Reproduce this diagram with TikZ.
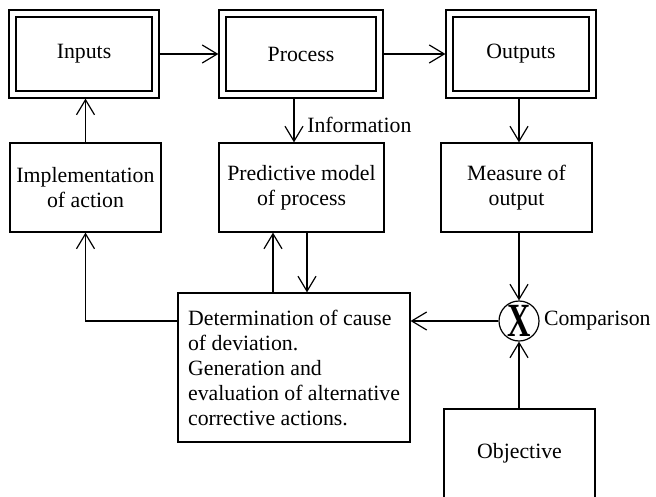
\documentclass[tikz,border=0pt]{standalone}
\usepackage{fontspec}
\setmainfont{Liberation Serif}
\usetikzlibrary{arrows.meta,calc}
\tikzstyle{block}=[draw,line width=0.6pt,minimum width=75.5pt,minimum height=44.5pt,align=center,inner sep=2pt]
\tikzstyle{dblock}=[draw,line width=0.6pt,double,double distance=2.9pt,minimum width=71.5pt,minimum height=40.5pt,outer sep=2.05pt]
\tikzstyle{flow}=[line width=0.6pt,-{Straight Barb[length=7.5pt,width=9pt]}]
\newcommand{\bigX}{{\fontsize{17pt}{17pt}\selectfont\bfseries\scalebox{0.95}[1.4]{X}}} % the cross in the comparator

\begin{document}
\begin{tikzpicture}[x=0.5pt,y=-0.5pt,font=\fontsize{10.9pt}{12.5pt}\selectfont]
\useasboundingbox (0,0) rectangle (656,496);
	% top row
	\node[dblock] (inputs) at (84,54) {Inputs};
	\node[dblock,minimum width=78.5pt] (process) at (301,54) {Process};
	\node[dblock] (outputs) at (521,54) {Outputs};
	% middle row
	\node[block] (impl) at (85.5,187.5) {Implementation\\of action};
	\node[block,minimum width=82.5pt] (model) at (301.5,187.5) {Predictive model\\of process};
	\node[block] (measure) at (516.5,187.5) {Measure of\\output};
	% bottom
	\node[block,align=left,inner xsep=5pt,minimum width=114pt,minimum height=74.5pt] (cause) at (294,367.5)
		{Determination of cause\\of deviation.\\Generation and\\evaluation of alternative\\corrective actions.};
	\node[draw,circle,line width=0.6pt,minimum size=20pt,inner sep=0pt] (comp) at (519,321) {\bigX};
	\node[anchor=west,inner sep=2pt] (complabel) at (comp.east) {Comparison};
	\node[block] (objective) at (519.5,453.5) {Objective};
	% connectors
	\draw[flow] (inputs) -- (process);
	\draw[flow] (process) -- (outputs);
	\draw[flow] (impl.north) -- (impl.north |- inputs.south);
	\coordinate (info) at ($(process.south)+(-7,0)$);
	\draw[flow] (info) -- (info |- model.north) node[pos=0.6,right=3pt] (infolabel) {Information};
	\draw[flow] (comp |- outputs.south) -- (comp |- measure.north);
	\draw[flow] (comp |- measure.south) -- (comp.north);
	\draw[flow] (comp |- objective.north) -- (comp.south);
	\draw[flow] (comp.west) -- (comp.west -| cause.east);
	\draw[flow] (cause.west |- comp.west) -| (impl.south);
	\coordinate (up) at ($(cause.north)+(-21,0)$);
	\coordinate (down) at ($(model.south)+(5.5,0)$);
	\draw[flow] (up) -- (up |- model.south);
	\draw[flow] (down) -- (down |- cause.north);
\end{tikzpicture}
\end{document}
